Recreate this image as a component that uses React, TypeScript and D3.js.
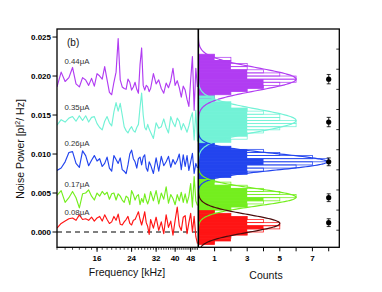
import React from "react";
import * as d3 from "d3";

// frequency points of the spectra [kHz]
const freqs = [
  10, 10.5, 11, 11.5, 12, 12.5, 13, 13.5, 14, 14.5, 15, 15.5, 16, 16.5, 17, 17.5, 18, 18.5, 19, 19.5,
  20, 20.5, 21, 21.5, 22, 22.5, 23, 23.5, 24, 24.5, 25, 25.5, 26, 26.5, 27, 27.5, 28, 28.5, 29, 29.5,
  30, 31, 32, 33, 34, 35, 36, 37, 38, 39, 40, 41, 42, 43, 44, 45, 46, 47, 48, 49, 50, 51, 52,
];

// noise power, in units of 1e-3 pI^2/Hz
const p044 = [
  18.6, 20.5, 19.3, 19.8, 21.1, 19.0, 18.6, 19.8, 19.5, 18.8, 19.7, 18.7, 20.3, 20.0, 19.6, 21.2, 19.5, 17.9, 17.6, 19.2,
  20.5, 24.8, 19.5, 18.6, 18.4, 18.3, 19.6, 19.2, 18.2, 18.6, 19.2, 18.3, 17.8, 21.5, 23.6, 18.8, 18.2, 18.8, 18.6, 18.0,
  18.4, 20.3, 19.0, 19.5, 18.4, 17.8, 19.1, 18.5, 19.4, 21.0, 18.8, 19.4, 18.5, 17.3, 18.7, 18.2, 17.0, 16.1, 19.5, 22.5, 15.6, 21.0, 18.6,
];
const p035 = [
  13.7, 14.4, 14.1, 14.6, 14.8, 14.2, 14.9, 14.3, 14.9, 14.1, 14.7, 14.8, 13.9, 13.4, 13.1, 14.2, 14.8, 14.0, 13.6, 15.4,
  16.6, 15.5, 16.5, 15.0, 13.5, 13.0, 12.7, 13.2, 13.5, 13.0, 12.8, 13.4, 13.8, 16.0, 17.8, 15.0, 13.4, 13.1, 13.8, 13.2,
  12.8, 12.0, 14.0, 13.3, 13.5, 14.5, 13.4, 12.7, 14.8, 14.0, 13.5, 14.6, 14.2, 13.1, 13.9, 13.4, 12.8, 13.6, 14.6, 15.3, 11.8, 15.6, 11.6,
];
const p026 = [
  7.9, 8.2, 9.0, 10.2, 10.3, 8.8, 8.3, 10.4, 9.8, 8.5, 9.2, 9.8, 9.1, 9.4, 8.4, 8.8, 9.6, 8.2, 7.8, 9.8,
  9.3, 8.8, 9.5, 8.0, 7.8, 7.5, 8.6, 10.0, 10.5, 9.4, 9.0, 8.2, 9.4, 9.6, 8.6, 9.6, 9.9, 8.2, 7.8, 9.0,
  8.6, 7.5, 9.5, 7.8, 9.7, 8.5, 9.0, 9.7, 8.3, 9.3, 8.7, 9.2, 10.0, 8.0, 9.9, 8.4, 9.8, 7.9, 9.0, 10.1, 7.5, 8.8, 8.2,
];
const p017 = [
  4.7, 5.3, 3.8, 4.4, 5.2, 4.4, 3.1, 4.9, 5.0, 5.4, 4.6, 4.1, 5.0, 4.6, 5.2, 4.8, 5.1, 4.2, 4.9, 5.0,
  4.1, 4.9, 4.6, 4.1, 3.8, 4.6, 4.4, 3.5, 5.3, 4.8, 4.1, 4.6, 4.8, 3.5, 4.3, 3.8, 4.9, 4.1, 3.6, 4.2,
  5.2, 4.0, 5.3, 3.6, 5.0, 4.2, 5.8, 3.7, 4.8, 4.3, 3.5, 4.8, 4.0, 5.1, 3.8, 4.9, 3.7, 4.6, 6.2, 3.2, 7.1, 4.0, 3.4,
];
const p008 = [
  0.5, 1.1, 1.4, 1.7, 1.8, 1.5, 2.2, 1.6, 1.7, 1.5, 1.9, 1.4, 1.8, 2.0, 1.4, 2.2, 1.6, 1.1, 1.3, 2.0,
  1.5, 2.3, 1.0, 0.9, 1.3, 1.6, 2.0, 1.1, 0.9, 1.5, 1.6, 2.1, 2.6, 1.6, 0.9, 1.7, 2.6, 1.2, 0.7, -0.3,
  1.6, 0.5, 1.9, 0.2, 1.3, -0.2, 2.2, 0.6, 1.4, -0.4, 1.5, 3.2, 0.8, 0.2, 1.9, 2.1, -0.2, 1.2, 2.4, 0.0, 2.0, -0.6, -1.5,
];

const currents = ["0.44μA", "0.35μA", "0.26μA", "0.17μA", "0.08μA"];
const colors = ["#b13cf2", "#72f2d6", "#2244ee", "#74ee1e", "#ff1414"];
const fitColors = ["#b13cf2", "#72f2d6", "#2244ee", "#74ee1e", "#4a0c0c"];
const spectra = [p044, p035, p026, p017, p008];
const labelY = [21.5, 15.6, 11.0, 5.8, 2.2];

// histograms (bin width 0.4e-3), counts listed from the lowest bin upward
const binWidth = 0.4;
const binStart = [16.8, 11.1, 6.6, 2.4, -1.6];
const fillCounts = [
  [1, 1, 2, 3, 4, 4, 4, 3, 3, 3, 2, 2, 2, 1, 1, 0],
  [1, 2, 2, 3, 3, 3, 3, 3, 3, 3, 3, 3, 2, 2, 1, 1],
  [1, 2, 3, 3, 3, 4, 4, 3, 3, 3, 2, 1],
  [1, 2, 3, 3, 4, 3, 3, 3, 2, 1, 1],
  [1, 2, 2, 3, 3, 4, 3, 3, 3, 2, 1],
];
const outlineCounts = [
  [0, 1, 2, 3, 4, 5, 6, 6, 5, 4, 3, 3, 2, 2, 1, 0],
  [1, 2, 3, 3, 4, 5, 6, 6, 5, 5, 4, 3, 2, 2, 1, 1],
  [1, 2, 3, 4, 6, 7, 8, 7, 5, 4, 2, 1],
  [1, 2, 3, 4, 5, 6, 5, 4, 3, 2, 1],
  [1, 1, 2, 3, 4, 5, 5, 4, 3, 2, 1],
];

// gaussian fits
const fitCenter = [19.6, 14.3, 9.0, 4.45, 1.1];
const fitSigma = [1.45, 1.45, 1.05, 1.1, 1.15];
const fitAmp = [6.0, 6.0, 7.9, 6.0, 5.0];

// mean values with error bars
const meanVal = [19.6, 14.1, 9.0, 4.4, 1.2];
const meanErr = [0.6, 0.6, 0.5, 0.5, 0.5];
const meanX = 8.0;

const yTicks = [0, 5, 10, 15, 20, 25];
const fTicks = [16, 24, 32, 40, 48];
const fMinor = d3.range(10, 53, 1);
const cTicks = [1, 3, 5, 7];
const cMinor = [1, 2, 3, 4, 5, 6, 7, 8];

const W = 382;
const H = 292;
const left = 57;
const mid = 198.3;
const right = 339.3;
const top = 29;
const bottom = 247.3;

const font = "'Liberation Sans', Arial, sans-serif";

export default function App() {
  const y = d3.scaleLinear().domain([-1.96, 26.03]).range([bottom, top]);
  const x = d3.scaleLog().domain([10, 52.5]).range([left, mid]);
  const c = d3.scaleLinear().domain([0, 8.65]).range([mid, right]);
  const yR = d3.scaleLinear().domain([-0.85, 10]).range([bottom, top]);

  const line = (vals: number[]) =>
    d3.line<number>().x((_, i) => x(freqs[i])).y((v) => y(v))(vals) || "";

  const gauss = (k: number) => {
    const pts = d3.range(-4.5, 4.51, 0.05).map((t) => fitCenter[k] + t * fitSigma[k]);
    return (
      d3
        .line<number>()
        .x((v) => c(fitAmp[k] * Math.exp(-0.5 * ((v - fitCenter[k]) / fitSigma[k]) ** 2)))
        .y((v) => y(v))
        .curve(d3.curveBasis)(pts.filter((v) => y(v) <= bottom)) || ""
    );
  };

  return (
    <svg
      width={W}
      height={H}
      style={{ position: "absolute", left: 0, top: 0, background: "#fff" }}
      fontFamily={font}
    >
      <defs>
        <clipPath id="lp">
          <rect x={left} y={top} width={mid - left} height={bottom - top} />
        </clipPath>
        <clipPath id="rp">
          <rect x={mid} y={top} width={right - mid} height={bottom - top} />
        </clipPath>
      </defs>

      {/* spectra */}
      <g clipPath="url(#lp)">
        <line x1={left} x2={mid} y1={y(0)} y2={y(0)} stroke="#000" strokeWidth={1.1} strokeDasharray="5,4" />
        {spectra.map((s, k) => (
          <path key={k} d={line(s)} fill="none" stroke={colors[k]} strokeWidth={1.15} strokeLinejoin="round" />
        ))}
      </g>
      {currents.map((t, k) => (
        <text key={t} x={64.5} y={y(labelY[k])} fontSize={7.8} fill="#333">
          {t}
        </text>
      ))}
      <text x={67} y={46} fontSize={10} fill="#111">
        (b)
      </text>

      {/* histograms */}
      <g clipPath="url(#rp)">
        {outlineCounts.map((arr, k) =>
          arr.map((n, i) =>
            n > 0 ? (
              <rect
                key={`o${k}-${i}`}
                x={mid}
                y={y(binStart[k] + (i + 1) * binWidth)}
                width={c(n) - mid}
                height={y(binStart[k] + i * binWidth) - y(binStart[k] + (i + 1) * binWidth)}
                fill="none"
                stroke={colors[k]}
                strokeWidth={0.75}
              />
            ) : null
          )
        )}
        {fillCounts.map((arr, k) =>
          arr.map((n, i) =>
            n > 0 ? (
              <rect
                key={`f${k}-${i}`}
                x={mid}
                y={y(binStart[k] + (i + 1) * binWidth)}
                width={c(n) - mid}
                height={y(binStart[k] + i * binWidth) - y(binStart[k] + (i + 1) * binWidth)}
                fill={colors[k]}
              />
            ) : null
          )
        )}
        {fitCenter.map((_, k) => (
          <path key={`g${k}`} d={gauss(k)} fill="none" stroke={fitColors[k]} strokeWidth={1.2} />
        ))}
        {meanVal.map((v, k) => (
          <g key={`m${k}`}>
            <line x1={c(meanX)} x2={c(meanX)} y1={y(v - meanErr[k])} y2={y(v + meanErr[k])} stroke="#000" strokeWidth={0.8} />
            <line x1={c(meanX) - 2} x2={c(meanX) + 2} y1={y(v - meanErr[k])} y2={y(v - meanErr[k])} stroke="#000" strokeWidth={0.8} />
            <line x1={c(meanX) - 2} x2={c(meanX) + 2} y1={y(v + meanErr[k])} y2={y(v + meanErr[k])} stroke="#000" strokeWidth={0.8} />
            <circle cx={c(meanX)} cy={y(v)} r={2.6} fill="#000" />
          </g>
        ))}
      </g>

      {/* frames */}
      <rect x={left} y={top} width={right - left} height={bottom - top} fill="none" stroke="#000" strokeWidth={1.3} />
      <line x1={mid} x2={mid} y1={top} y2={bottom} stroke="#000" strokeWidth={1.6} />

      {/* left y axis */}
      {yTicks.map((t) => (
        <g key={`y${t}`}>
          <line x1={left - 4.5} x2={left} y1={y(t)} y2={y(t)} stroke="#000" strokeWidth={1} />
          <text x={left - 6} y={y(t)} dy="0.35em" textAnchor="end" fontSize={8} fontWeight="bold">
            {(t / 1000).toFixed(3)}
          </text>
        </g>
      ))}
      <text transform={`translate(24,149) rotate(-90)`} textAnchor="middle" fontSize={10.5} fill="#111">
        Noise Power [pI<tspan dy={-4} fontSize={7}>2</tspan>
        <tspan dy={4}>/ Hz]</tspan>
      </text>

      {/* right inner ticks */}
      {d3.range(0, 10).map((t) => (
        <line key={`r${t}`} x1={right - 3} x2={right} y1={yR(t)} y2={yR(t)} stroke="#000" strokeWidth={0.8} />
      ))}

      {/* frequency axis */}
      {fMinor.map((f) => (
        <line key={`fm${f}`} x1={x(f)} x2={x(f)} y1={bottom} y2={bottom + 2.5} stroke="#000" strokeWidth={0.7} />
      ))}
      {fTicks.map((f) => (
        <g key={`f${f}`}>
          <line x1={x(f)} x2={x(f)} y1={bottom} y2={bottom + 4.5} stroke="#000" strokeWidth={1} />
          <text x={x(f)} y={261} textAnchor="middle" fontSize={8} fontWeight="bold">
            {f}
          </text>
        </g>
      ))}
      <text x={127} y={275.5} textAnchor="middle" fontSize={10.5} fill="#111">
        Frequency [kHz]
      </text>

      {/* counts axis */}
      {cMinor.map((n) => (
        <line key={`cm${n}`} x1={c(n)} x2={c(n)} y1={bottom} y2={bottom + 4} stroke="#000" strokeWidth={1} />
      ))}
      {cTicks.map((n) => (
        <text key={`c${n}`} x={c(n)} y={261} textAnchor="middle" fontSize={8} fontWeight="bold">
          {n}
        </text>
      ))}
      <text x={266} y={278.5} textAnchor="middle" fontSize={10.5} fill="#111">
        Counts
      </text>
    </svg>
  );
}
